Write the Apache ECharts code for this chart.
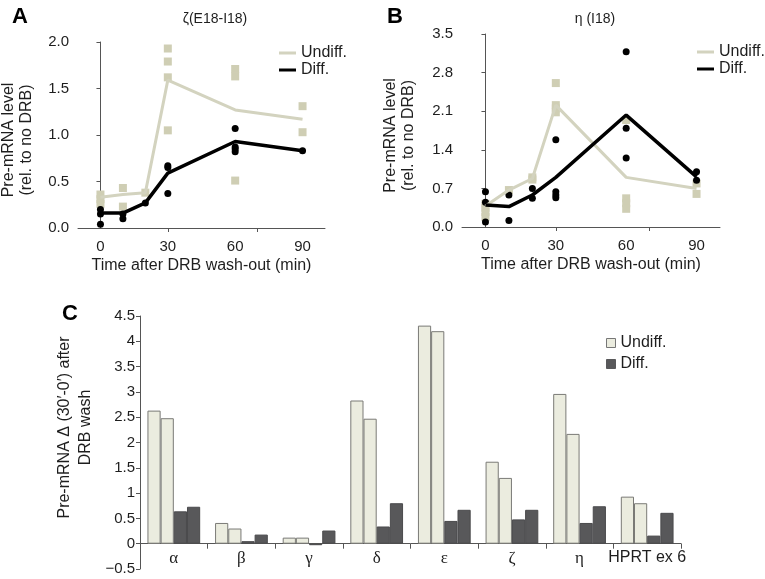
<!DOCTYPE html>
<html>
<head>
<meta charset="utf-8">
<script src="https://cdn.jsdelivr.net/npm/echarts@6/dist/echarts.min.js"></script>
<style>
  html, body { margin: 0; padding: 0; background: #fff; }
  #chart { width: 765px; height: 579px; }
</style>
</head>
<body>
<div id="chart"></div>
<script>
// time points (min)
const times = [0, 10, 20, 30, 60, 90]

// panel A: zeta (E18-I18)
const aUndiffMean = [0.33, 0.36, 0.38, 1.59, 1.27, 1.17]
const aDiffMean = [0.16, 0.16, 0.27, 0.59, 0.93, 0.83]
const aUndiffPts = [[0, 0.36], [0, 0.31], [0, 0.26], [10, 0.43], [10, 0.23], [20, 0.38],
  [30, 1.93], [30, 1.79], [30, 1.62], [30, 1.05], [60, 1.71], [60, 1.63], [60, 0.51], [90, 1.31], [90, 1.03]]
const aDiffPts = [[0, 0.20], [0, 0.15], [0, 0.04], [10, 0.15], [10, 0.10], [20, 0.27],
  [30, 0.67], [30, 0.65], [30, 0.37], [60, 1.07], [60, 0.87], [60, 0.85], [60, 0.82], [90, 0.83]]

// panel B: eta (I18)
const bUndiffMean = [0.38, 0.67, 0.88, 2.21, 0.90, 0.70]
const bDiffMean = [0.40, 0.37, 0.58, 0.90, 2.03, 0.91]
const bUndiffPts = [[0, 0.42], [0, 0.35], [0, 0.27], [0, 0.18], [10, 0.67], [20, 0.90], [20, 0.86],
  [30, 2.61], [30, 2.21], [30, 2.15], [30, 2.08], [60, 1.94], [60, 0.52], [60, 0.43], [60, 0.33], [90, 0.79], [90, 0.60]]
const bDiffPts = [[0, 0.64], [0, 0.45], [0, 0.09], [10, 0.58], [10, 0.12], [20, 0.70], [20, 0.52],
  [30, 1.58], [30, 0.64], [30, 0.58], [30, 0.53], [60, 3.18], [60, 1.79], [60, 1.25], [90, 1.00], [90, 0.85]]

// panel C: delta (30'-0')
const genes = ['α', 'β', 'γ', 'δ', 'ε', 'ζ', 'η', 'HPRT ex 6']
const undiffRep1 = [2.63, 0.41, 0.12, 2.83, 4.31, 1.62, 2.96, 0.93]
const undiffRep2 = [2.48, 0.30, 0.12, 2.47, 4.20, 1.30, 2.17, 0.80]
const diffRep1 = [0.64, 0.05, -0.03, 0.34, 0.45, 0.48, 0.41, 0.16]
const diffRep2 = [0.73, 0.18, 0.26, 0.80, 0.67, 0.67, 0.74, 0.61]

const xLabels = [0, 30, 60, 90]
const xTicks = [30, 70]

const SANS = 'Liberation Sans, Arial, sans-serif'
const TXT = '#1e1e1e'
const AX = '#555'
const beige = '#cfceb4'
const beigeLine = '#d3d3bf'

function pair (xs, ys) {
  return xs.map((x, i) => [x, ys[i]])
}

function timeAxis (grid) {
  return {
    type: 'value',
    gridIndex: grid,
    min: -10,
    max: 100,
    name: 'Time after DRB wash-out (min)',
    nameLocation: 'middle',
    nameGap: 30,
    nameTextStyle: { fontFamily: SANS, fontSize: 16, color: TXT },
    axisLine: { onZero: false, lineStyle: { color: AX, width: 1 } },
    axisTick: { show: true, customValues: xTicks, length: 4, lineStyle: { color: AX } },
    axisLabel: { customValues: xLabels, margin: 11, fontFamily: SANS, fontSize: 15, color: TXT },
    splitLine: { show: false }
  }
}

function levelAxis (grid, max, step, gap) {
  return {
    type: 'value',
    gridIndex: grid,
    min: 0,
    max: max,
    interval: step,
    name: 'Pre-mRNA level\n(rel. to no DRB)',
    nameLocation: 'middle',
    nameGap: gap,
    nameTextStyle: { fontFamily: SANS, fontSize: 16, color: TXT, lineHeight: 18, padding: [0, 10, 0, 0] },
    axisLine: { show: true, lineStyle: { color: AX, width: 1 } },
    axisTick: { show: true, length: 4, lineStyle: { color: AX } },
    axisLabel: {
      margin: 9,
      fontFamily: SANS,
      fontSize: 15,
      color: TXT,
      formatter: (v) => v.toFixed(1)
    },
    splitLine: { show: false }
  }
}

function lineLegend (left, top) {
  return {
    left: left,
    top: top,
    orient: 'vertical',
    itemWidth: 17,
    itemHeight: 3,
    itemGap: 1,
    selectedMode: false,
    textStyle: { fontFamily: SANS, fontSize: 16, color: TXT },
    data: [
      { name: 'Undiff.', icon: 'rect', itemStyle: { color: beigeLine, borderWidth: 0 } },
      { name: 'Diff.', icon: 'rect', itemStyle: { color: '#000', borderWidth: 0 } }
    ]
  }
}

function meanLine (name, idx, data, color, width) {
  return {
    name: name,
    type: 'line',
    xAxisIndex: idx,
    yAxisIndex: idx,
    data: data,
    symbol: 'none',
    lineStyle: { color: color, width: width },
    itemStyle: { color: color },
    silent: true,
    animation: false
  }
}

function points (name, idx, data, shape, size, color) {
  return {
    name: name,
    type: 'scatter',
    xAxisIndex: idx,
    yAxisIndex: idx,
    data: data,
    symbol: shape,
    symbolSize: size,
    itemStyle: { color: color, opacity: 1 },
    silent: true,
    animation: false
  }
}

function bars (name, data, fill, border) {
  return {
    name: name,
    type: 'bar',
    xAxisIndex: 2,
    yAxisIndex: 2,
    data: data,
    barGap: '0%',
    barCategoryGap: '22%',
    itemStyle: { color: fill, borderColor: border, borderWidth: 1 },
    silent: true,
    animation: false
  }
}

let chart = echarts.init(document.getElementById('chart'), null, { renderer: 'canvas' })

let option = {
  backgroundColor: '#fff',
  textStyle: { fontFamily: SANS },
  title: [
    { text: 'A', left: 7, top: 1, textStyle: { fontFamily: SANS, fontSize: 22, fontWeight: 'bold', color: '#000' } },
    { text: 'B', left: 382, top: 1, textStyle: { fontFamily: SANS, fontSize: 22, fontWeight: 'bold', color: '#000' } },
    { text: 'C', left: 57, top: 298, textStyle: { fontFamily: SANS, fontSize: 22, fontWeight: 'bold', color: '#000' } },
    { text: 'ζ(E18-I18)', left: 210, top: 7, textAlign: 'center', textStyle: { fontFamily: SANS, fontSize: 14, fontWeight: 'normal', color: TXT } },
    { text: 'η (I18)', left: 590, top: 7, textAlign: 'center', textStyle: { fontFamily: SANS, fontSize: 14, fontWeight: 'normal', color: TXT } }
  ],
  legend: [
    lineLegend(274, 40),
    lineLegend(692, 39),
    {
      left: 601,
      top: 330,
      orient: 'vertical',
      itemWidth: 9,
      itemHeight: 9,
      itemGap: 5,
      selectedMode: false,
      textStyle: { fontFamily: SANS, fontSize: 16, color: TXT },
      data: [
        { name: 'Undiff. C', icon: 'rect', itemStyle: { color: '#ebecdf', borderColor: '#777', borderWidth: 1 } },
        { name: 'Diff. C', icon: 'rect', itemStyle: { color: '#58585a', borderColor: '#58585a', borderWidth: 1 } }
      ],
      formatter: (n) => n.replace(' C', '')
    }
  ],
  grid: [
    { left: 78, top: 42, width: 247, height: 186, outerBoundsMode: 'none' },
    { left: 462, top: 34, width: 258, height: 193, outerBoundsMode: 'none' },
    { left: 140, top: 316, width: 541, height: 253, outerBoundsMode: 'none' }
  ],
  xAxis: [
    timeAxis(0),
    timeAxis(1),
    {
      type: 'category',
      gridIndex: 2,
      data: genes,
      axisLine: { onZero: true, lineStyle: { color: AX, width: 1 } },
      axisTick: { show: true, length: 5, lineStyle: { color: AX } },
      axisLabel: {
        interval: 0,
        margin: -19,
        color: TXT,
        formatter: (v) => v === 'HPRT ex 6' ? '{s|' + v + '}' : '{g|' + v + '}',
        rich: {
          g: { fontFamily: 'Liberation Serif, DejaVu Serif, serif', fontSize: 17, color: TXT },
          s: { fontFamily: SANS, fontSize: 16, color: TXT }
        }
      },
      splitLine: { show: false }
    }
  ],
  yAxis: [
    levelAxis(0, 2, 0.5, 42),
    levelAxis(1, 3.5, 0.7, 44),
    {
      type: 'value',
      gridIndex: 2,
      min: -0.5,
      max: 4.5,
      interval: 0.5,
      name: 'Pre-mRNA Δ (30′-0′) after\nDRB wash',
      nameLocation: 'middle',
      nameGap: 44,
      nameMoveOverlap: false,
      nameTextStyle: { fontFamily: SANS, fontSize: 16, color: TXT, lineHeight: 21, padding: [0, 0, 0, 30] },
      axisLine: { show: true, lineStyle: { color: AX, width: 1 } },
      axisTick: { show: true, length: 4, lineStyle: { color: AX } },
      axisLabel: {
        margin: 5,
        fontFamily: SANS,
        fontSize: 15,
        color: TXT,
        formatter: (v) => v < 0 ? '\u2212' + Math.abs(v) : String(v)
      },
      splitLine: { show: false }
    }
  ],
  series: [
    points('Undiff. pts A', 0, aUndiffPts, 'rect', 8, beige),
    meanLine('Undiff.', 0, pair(times, aUndiffMean), beigeLine, 3),
    meanLine('Diff.', 0, pair(times, aDiffMean), '#000', 3.5),
    points('Diff. pts A', 0, aDiffPts, 'circle', 7, '#000'),

    points('Undiff. pts B', 1, bUndiffPts, 'rect', 8, beige),
    meanLine('Undiff. B', 1, pair(times, bUndiffMean), beigeLine, 3),
    meanLine('Diff. B', 1, pair(times, bDiffMean), '#000', 3.5),
    points('Diff. pts B', 1, bDiffPts, 'circle', 7, '#000'),

    bars('Undiff. C', undiffRep1, '#ebecdf', '#7a7a76'),
    bars('Undiff. C', undiffRep2, '#ebecdf', '#7a7a76'),
    bars('Diff. C', diffRep1, '#58585a', '#4a4a4c'),
    bars('Diff. C', diffRep2, '#58585a', '#4a4a4c')
  ]
}

chart.setOption(option)
</script>
</body>
</html>
